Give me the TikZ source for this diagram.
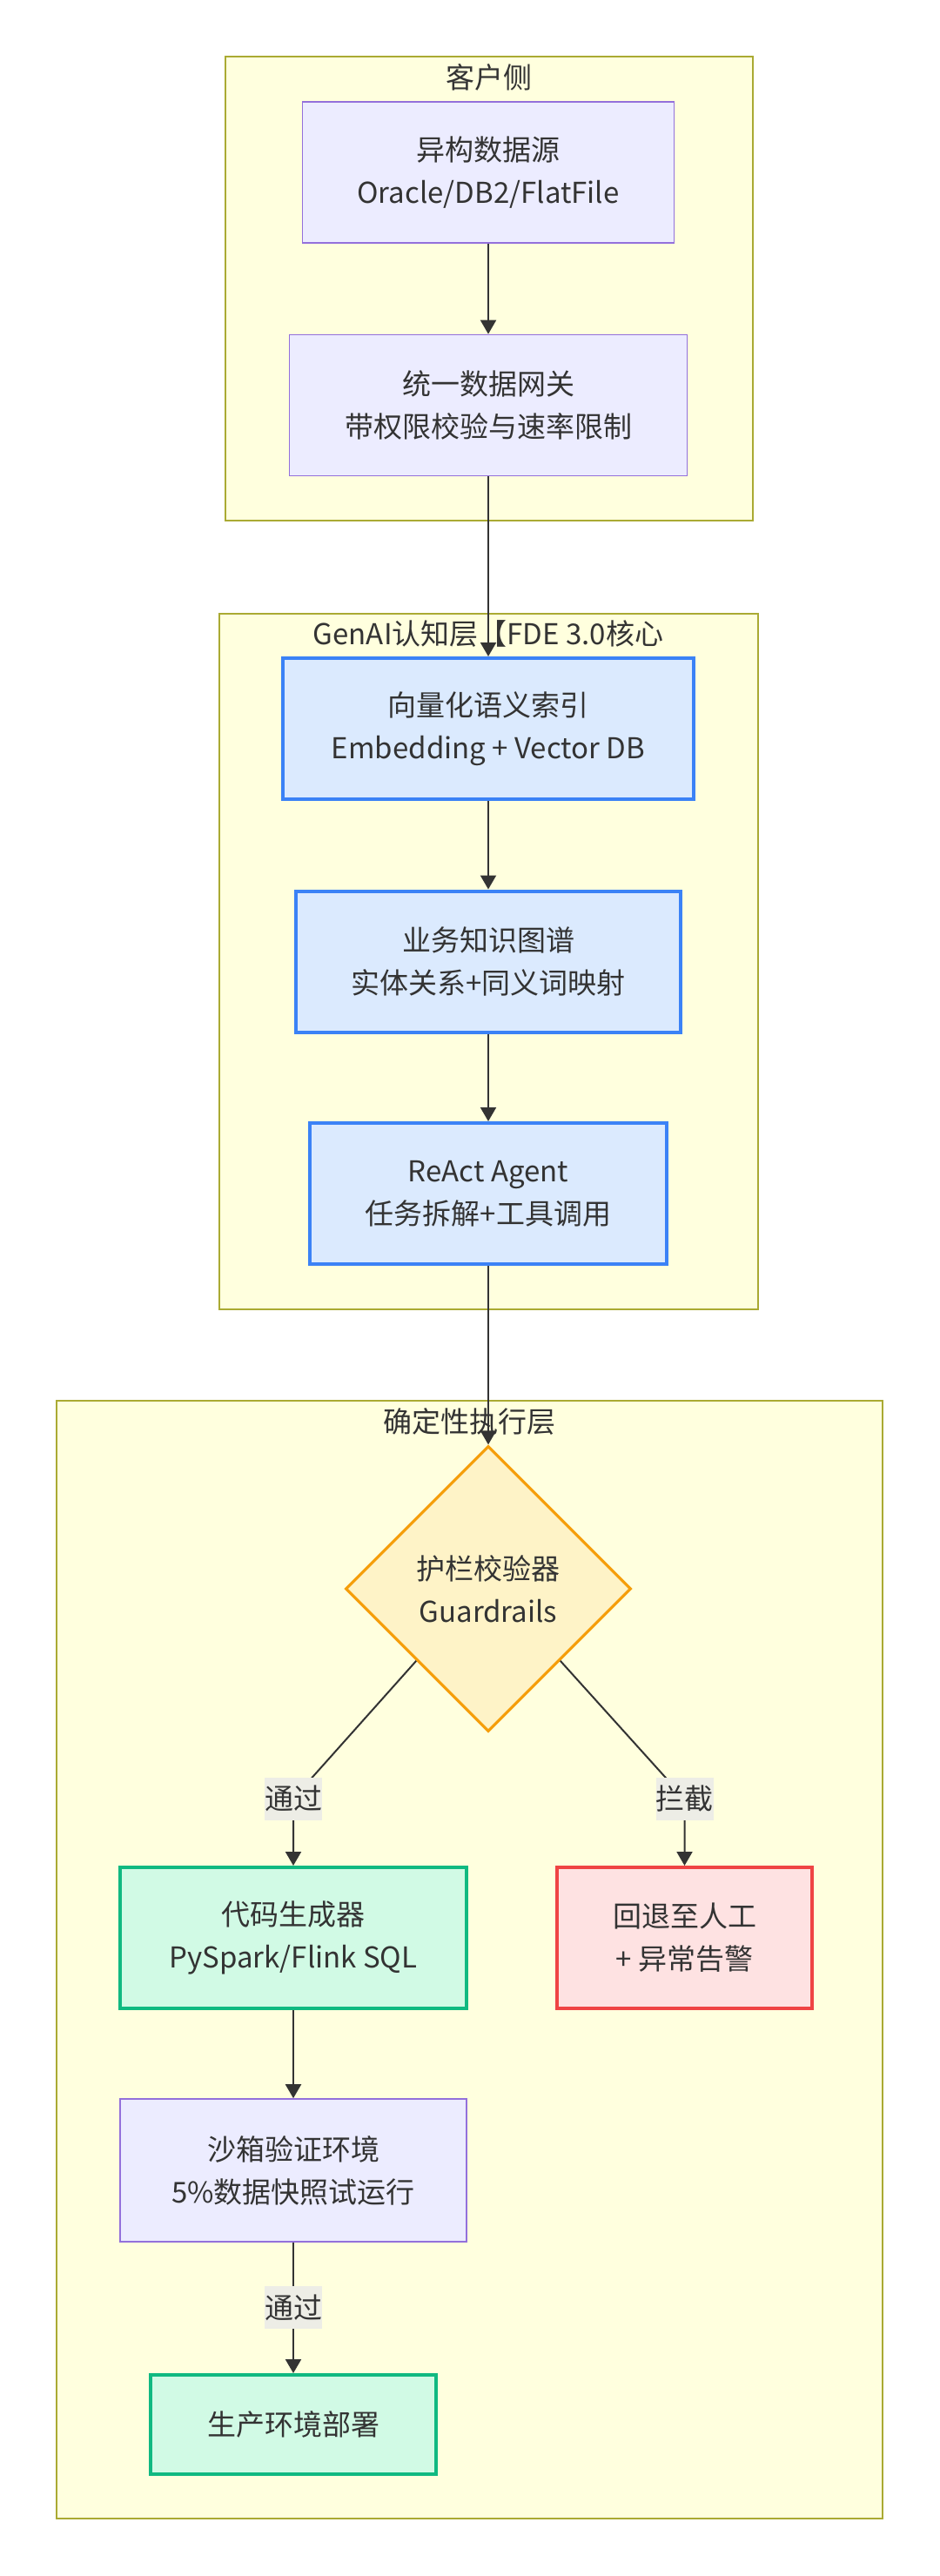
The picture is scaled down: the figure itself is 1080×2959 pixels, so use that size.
\documentclass[tikz,border=0pt]{standalone}
\usepackage{fontspec}
\setmainfont{Noto Sans CJK SC}
\usetikzlibrary{shapes.geometric,arrows.meta}
\definecolor{ink}{HTML}{333333}
\definecolor{clfill}{HTML}{FFFFDE}
\definecolor{clline}{HTML}{AAAA33}
\definecolor{purplefill}{HTML}{ECECFF}
\definecolor{purpleline}{HTML}{9370DB}
\definecolor{bluefill}{HTML}{DBEAFE}
\definecolor{blueline}{HTML}{3B82F6}
\definecolor{greenfill}{HTML}{D1FAE5}
\definecolor{greenline}{HTML}{10B981}
\definecolor{redfill}{HTML}{FEE2E2}
\definecolor{redline}{HTML}{EF4444}
\definecolor{amberfill}{HTML}{FEF3C7}
\definecolor{amberline}{HTML}{F59E0B}
\definecolor{lblfill}{HTML}{EDEDE6}
\begin{document}
\begin{tikzpicture}[x=0.5pt, y=-0.5pt,
    base/.style={text=ink, font=\fontsize{16.5}{24.5}\selectfont, align=center, inner sep=0pt},
    layer/.style={base, draw=clline, fill=clfill, line width=0.8pt},
    plain/.style={base, draw=purpleline, fill=purplefill, line width=0.8pt, minimum height=81pt},
    cogn/.style={base, draw=blueline, fill=bluefill, line width=2pt, minimum height=81pt},
    good/.style={base, draw=greenline, fill=greenfill, line width=2pt},
    bad/.style={base, draw=redline, fill=redfill, line width=2pt, minimum height=81pt},
    check/.style={base, diamond, aspect=1, draw=amberline, fill=amberfill, line width=1.6pt, minimum width=164pt, minimum height=164pt},
    lbl/.style={base, fill=lblfill, minimum height=24.5pt},
    flow/.style={draw=ink, line width=1pt, -{Triangle[length=8pt,width=9pt]}}
]
    \fill[white] (0,0) rectangle (1080,2959);
    \useasboundingbox (0,0) rectangle (1080,2959);
    % ---- client side ----
    \node[layer, minimum width=303pt, minimum height=266.5pt] (cli) at (562,331.5) {};
    \node[base] (cliT) at (562,89) {客户侧};
    \node[plain, minimum width=213.5pt] (src) at (561,198) {异构数据源\\Oracle/DB2/FlatFile};
    \node[plain, minimum width=228.5pt] (gw) at (561,465.5) {统一数据网关\\带权限校验与速率限制};
    % ---- GenAI layer ----
    \node[layer, minimum width=309.5pt, minimum height=399.5pt] (gen) at (561.5,1104.5) {};
    \node[base] (genT) at (561,728) {GenAI认知层【FDE 3.0核心};
    \node[cogn, minimum width=236pt] (vec) at (561,837) {向量化语义索引\\Embedding + Vector DB};
    \node[cogn, minimum width=221pt] (kg) at (561,1104.5) {业务知识图谱\\实体关系+同义词映射};
    \node[cogn, minimum width=205pt] (agent) at (561,1371) {ReAct Agent\\任务拆解+工具调用};
    % ---- deterministic execution layer ----
    \node[layer, minimum width=474.5pt, minimum height=642pt] (exe) at (539.5,2251) {};
    \node[base] (exeT) at (539.5,1633) {确定性执行层};
    \node[check] (guard) at (561,1825) {护栏校验器\\Guardrails};
    \node[good, minimum width=199pt, minimum height=81pt] (code) at (337,2226) {代码生成器\\PySpark/Flink SQL};
    \node[bad, minimum width=146.5pt] (fallback) at (786.5,2226) {回退至人工\\+ 异常告警};
    \node[plain, minimum width=199pt, minimum height=82pt] (sandbox) at (337,2493) {沙箱验证环境\\5\%数据快照试运行};
    \node[good, minimum width=164pt, minimum height=57pt] (deploy) at (337,2785) {生产环境部署};
    % ---- connectors ----
    \draw[flow] (src) -- (gw);
    \draw[flow] (gw) -- (vec);
    \draw[flow] (vec) -- (kg);
    \draw[flow] (kg) -- (agent);
    \draw[flow] (agent) -- (guard);
    \coordinate (passBend) at (337,2066);
    \coordinate (blockBend) at (786.5,2066);
    \draw[flow] (guard.south west) -- (passBend) node[lbl] (passL) {通过} -- (code.north);
    \draw[flow] (guard.south east) -- (blockBend) node[lbl] (blockL) {拦截} -- (fallback.north);
    \draw[flow] (code) -- (sandbox);
    \draw[flow] (sandbox) -- (deploy) node[lbl, midway] (okL) {通过};
\end{tikzpicture}
\end{document}
